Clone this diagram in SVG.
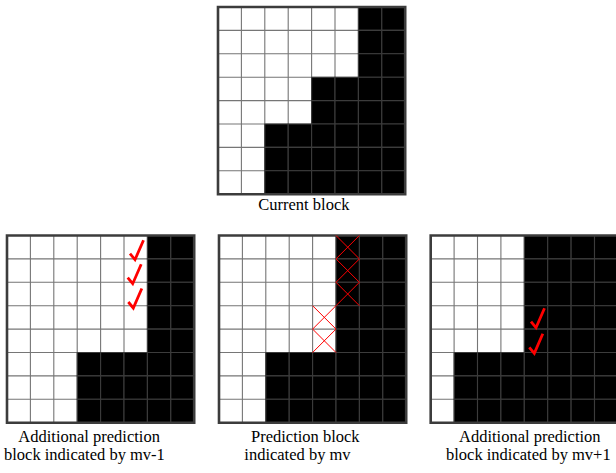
<svg xmlns="http://www.w3.org/2000/svg" xmlns:xlink="http://www.w3.org/1999/xlink" width="616" height="473" viewBox="0 0 616 473">
<style>
.cell,.gw,.frame,.xm{vector-effect:non-scaling-stroke}
.gw{fill:none;stroke:#767676;stroke-width:1.1}
.k{fill:#000;stroke:#3c3c3c;stroke-width:1.1}
.frame{fill:none;stroke:#3c3c3c;stroke-width:2.6}
.xm{fill:none;stroke:#f00;stroke-width:1}
.chk{fill:none;stroke:#f00;stroke-width:2.8;stroke-linejoin:miter}
text{font-family:"Liberation Serif","Times New Roman",serif;font-size:16.5px;fill:#000}
</style>
<defs>
<rect id="c" class="cell" width="1" height="1"/>
<g id="base"><rect width="8" height="8" fill="#fff"/><path class="gw" d="M1 0V8M2 0V8M3 0V8M4 0V8M5 0V8M6 0V8M7 0V8M0 1H8M0 2H8M0 3H8M0 4H8M0 5H8M0 6H8M0 7H8"/></g>
<rect id="frame" class="frame" width="8" height="8"/>
<g id="r6"><use href="#c" x="6"/><use href="#c" x="7"/></g>
<g id="r5"><use href="#c" x="5"/><use href="#r6"/></g>
<g id="r4"><use href="#c" x="4"/><use href="#r5"/></g>
<g id="r3"><use href="#c" x="3"/><use href="#r4"/></g>
<g id="r2"><use href="#c" x="2"/><use href="#r3"/></g>
<g id="r1"><use href="#c" x="1"/><use href="#r2"/></g>
<path id="chk" class="chk" d="M-5,-6 L0,0 L8.5,-19.5"/>
</defs>

<g id="current-block">
<g transform="translate(218,7) scale(23.4)">
<use href="#base"/>
<use href="#r6" class="k" y="0"/><use href="#r6" class="k" y="1"/><use href="#r6" class="k" y="2"/>
<use href="#r4" class="k" y="3"/><use href="#r4" class="k" y="4"/>
<use href="#r2" class="k" y="5"/><use href="#r2" class="k" y="6"/><use href="#r2" class="k" y="7"/>
<use href="#frame"/>
</g>
<text x="258.3" y="210">Current block</text>
</g>

<g id="block-mv-minus-1">
<g transform="translate(7,235.5) scale(23.4)">
<use href="#base"/>
<use href="#r6" class="k" y="0"/><use href="#r6" class="k" y="1"/><use href="#r6" class="k" y="2"/>
<use href="#r6" class="k" y="3"/><use href="#r6" class="k" y="4"/>
<use href="#r3" class="k" y="5"/><use href="#r3" class="k" y="6"/><use href="#r3" class="k" y="7"/>
<use href="#frame"/>
</g>
<use href="#chk" x="135" y="259.7"/>
<use href="#chk" x="132.7" y="283.7"/>
<use href="#chk" x="133.3" y="308"/>
<text x="18.3" y="441.5">Additional prediction</text>
<text x="4" y="459.5">block indicated by mv-1</text>
</g>

<g id="block-mv">
<g transform="translate(219,235.5) scale(23.4)">
<use href="#base"/>
<use href="#r5" class="k" y="0"/><use href="#r5" class="k" y="1"/><use href="#r5" class="k" y="2"/>
<use href="#r5" class="k" y="3"/><use href="#r5" class="k" y="4"/>
<use href="#r2" class="k" y="5"/><use href="#r2" class="k" y="6"/><use href="#r2" class="k" y="7"/>
<use href="#frame"/>
<path class="xm" d="M5 0L6 1M6 0L5 1M5 1L6 2M6 1L5 2M5 2L6 3M6 2L5 3M4 3L5 4M5 3L4 4M4 4L5 5M5 4L4 5"/>
</g>
<text x="251" y="441.5">Prediction block</text>
<text x="244.3" y="459.5">indicated by mv</text>
</g>

<g id="block-mv-plus-1">
<g transform="translate(430.7,235.5) scale(23.4)">
<use href="#base"/>
<use href="#r4" class="k" y="0"/><use href="#r4" class="k" y="1"/><use href="#r4" class="k" y="2"/>
<use href="#r4" class="k" y="3"/><use href="#r4" class="k" y="4"/>
<use href="#r1" class="k" y="5"/><use href="#r1" class="k" y="6"/><use href="#r1" class="k" y="7"/>
<use href="#frame"/>
</g>
<use href="#chk" x="536" y="327.7"/>
<use href="#chk" x="534.3" y="353.3"/>
<text x="459" y="441.5">Additional prediction</text>
<text x="446" y="459.5">block indicated by mv+1</text>
</g>
</svg>
